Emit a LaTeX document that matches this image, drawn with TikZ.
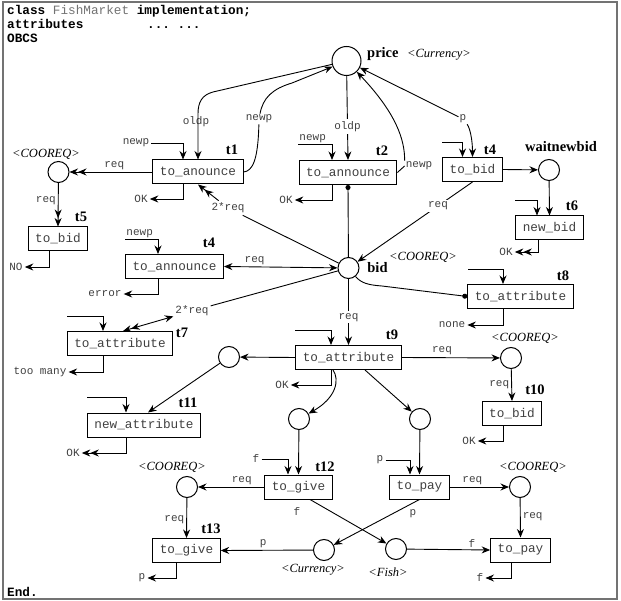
\documentclass[tikz,border=0pt]{standalone}
\usepackage{fontspec}
\setmainfont{Liberation Serif}
\setmonofont{Liberation Mono}
\usetikzlibrary{arrows.meta}

\begin{document}
\begin{tikzpicture}[x=1pt, y=-1pt, >={Stealth[length=8.5pt, width=7pt]},
  place/.style={circle, draw, line width=1pt, minimum size=21pt, inner sep=0pt},
  trans/.style={rectangle, draw, line width=1pt, minimum height=24pt, inner xsep=7pt, inner ysep=0pt,
    font=\ttfamily\fontsize{12.7}{14}\selectfont, text=black!75},
  tname/.style={font=\bfseries\fontsize{14.5}{16}\selectfont, inner sep=0pt},
  ptype/.style={font=\itshape\fontsize{12.5}{14}\selectfont, inner sep=0pt},
  lbl/.style={font=\ttfamily\fontsize{11}{12}\selectfont, text=black!75, inner sep=2pt},
  head/.style={anchor=base west, inner sep=0pt, font=\ttfamily\bfseries\fontsize{12.7}{14}\selectfont},
  arc/.style={line width=0.9pt, ->},
  arcs/.style={line width=0.9pt, ->>},
  both/.style={line width=0.9pt, <->},
  bothd/.style={line width=0.9pt, <->>},
  test/.style={line width=0.9pt, -{Circle[length=5pt]}}
]
  \useasboundingbox (0,0) rectangle (621,601);
  \draw[black!55, line width=1.2pt] (3,2) rectangle (617,599);

  % Header of the class
  \node[head] (hd1) at (7,15) {class {\mdseries\color{black!55}FishMarket} implementation;};
  \node[head] (hd2) at (7,29) {attributes};
  \node[head] (hd3) at (147,29) {... ...};
  \node[head] (hd4) at (7,43) {OBCS};
  \node[head] (hd5) at (7,596) {End.};

  % Places
  \node[place, minimum size=29pt] (price) at (346.5,61) {};
  \node[place] (cq1) at (58.5,172) {};
  \node[place] (bid) at (348.5,268) {};
  \node[place] (wnb) at (549,170) {};
  \node[place] (pl9) at (229,357) {};
  \node[place] (cq2) at (511,358) {};
  \node[place] (pf) at (299,419) {};
  \node[place] (pp) at (420,419) {};
  \node[place] (cq3) at (187,487) {};
  \node[place] (cq4) at (520,487) {};
  \node[place] (cur) at (324,550) {};
  \node[place] (fish) at (396,549) {};

  % Place names and types
  \node[tname, anchor=base west] (priceL) at (367,58) {price};
  \node[ptype, anchor=base west] (priceT) at (407,58) {<Currency>};
  \node[tname] (wnbL) at (561,147) {waitnewbid};
  \node[ptype] (cq1L) at (46,154) {<COOREQ>};
  \node[tname] (bidL) at (377.5,268) {bid};
  \node[ptype] (bidT) at (423,257) {<COOREQ>};
  \node[ptype] (cq2L) at (525,338) {<COOREQ>};
  \node[ptype] (cq3L) at (172,467) {<COOREQ>};
  \node[ptype] (cq4L) at (533,467) {<COOREQ>};
  \node[ptype] (curL) at (313,570) {<Currency>};
  \node[ptype] (fishL) at (388,572) {<Fish>};

  % Transitions
  \node[trans] (t1) at (198,172) {to\_anounce};
  \node[trans] (t2) at (348,172.5) {to\_announce};
  \node[trans] (t4) at (472.5,169.5) {to\_bid};
  \node[trans] (t5) at (58,239) {to\_bid};
  \node[trans] (t4b) at (174.5,266.5) {to\_announce};
  \node[trans] (t6) at (549.5,228) {new\_bid};
  \node[trans] (t7) at (120,343.5) {to\_attribute};
  \node[trans] (t8) at (520.5,296.5) {to\_attribute};
  \node[trans] (t9) at (348.5,357.5) {to\_attribute};
  \node[trans] (t10) at (512,413.5) {to\_bid};
  \node[trans] (t11) at (144,425) {new\_attribute};
  \node[trans] (t12) at (298.5,487) {to\_give};
  \node[trans] (t13) at (186.5,550.5) {to\_give};
  \node[trans] (t14) at (419.5,487) {to\_pay};
  \node[trans] (t15) at (520.5,550) {to\_pay};

  % Transition names
  \node[tname] (n1) at (232,150) {t1};
  \node[tname] (n2) at (382,151) {t2};
  \node[tname] (n4) at (490,150) {t4};
  \node[tname] (n5) at (81,217) {t5};
  \node[tname] (n4b) at (209,243) {t4};
  \node[tname] (n6) at (572,206) {t6};
  \node[tname] (n7) at (182,333) {t7};
  \node[tname] (n8) at (563,276) {t8};
  \node[tname] (n9) at (392,335) {t9};
  \node[tname] (n10) at (535,390) {t10};
  \node[tname] (n11) at (188,403) {t11};
  \node[tname] (n12) at (325,467) {t12};
  \node[tname] (n13) at (211,529) {t13};

  % Arcs of t1
  \node[lbl] (oldp1) at (196,122) {oldp};
  \draw[arc] (price) -- (213,92) .. controls (202,95) and (198,102) .. (198,114) -- (t1.north);
  \node[lbl, fill=white, inner sep=1pt] (newp1) at (259,119) {newp};
  \draw[line width=0.9pt] (t1.east) .. controls (252,171) and (258,162) .. (newp1);
  \draw[arc] (newp1) .. controls (263,98) and (272,89) .. (292,83) -- (price);
  \node[lbl] (nw1) at (136,143) {newp};
  \draw[arc] (nw1) -| ([xshift=-15pt]t1.north);
  \draw[arcs] (t1.west) -- node[lbl, above, pos=0.46] (rq1) {req} (cq1);
  \node[lbl] (ok1) at (141,199) {OK};
  \draw[arc] ([xshift=-15pt]t1.south) |- (ok1);
  \node[lbl] (rq1b) at (228,208) {2*req};
  \draw[arcs] (bid) -- (rq1b) -- (t1.south);

  % Arcs of t2
  \draw[arc] (price) -- node[lbl, fill=white, pos=0.6] (oldp2) {oldp} (t2.north);
  \coordinate (d2) at (298,144);
  \draw[arc] (d2) node[lbl, above right, inner sep=1pt] (nw2) {newp} -| ([xshift=-16pt]t2.north);
  \node[lbl] (ok2) at (286,200) {OK};
  \draw[arc] ([xshift=-16pt]t2.south) |- (ok2);
  \draw[test] (bid) -- (t2.south);
  \node[lbl, fill=white, inner sep=1pt] (newp2) at (419,166) {newp};
  \draw[line width=0.9pt] (t2.east) -- (newp2.west);
  \draw[arc] (newp2.north west) .. controls (405,140) and (396,113) .. (price);

  % Arcs of t4 and t6
  \node[lbl, inner sep=1pt] (p4) at (463,119) {p};
  \draw[arc] (p4) -- (price);
  \draw[arc] (p4) .. controls (470,128) and (472.5,140) .. (t4.north);
  \coordinate (d4) at (442,142);
  \draw[arc] (d4) -| ([xshift=-10pt]t4.north);
  \draw[arc] (t4.east) -- (wnb);
  \draw[arc] (t4.south) -- node[lbl, fill=white, pos=0.3] (rq4) {req} (bid);
  \draw[arc] (wnb) -- (t6.north);
  \coordinate (d6) at (515,200);
  \draw[arc] (d6) -| ([xshift=-12.5pt]t6.north);
  \node[lbl] (ok6) at (506,252) {OK};
  \draw[arcs] ([xshift=-11.5pt]t6.south) |- (ok6);

  % Arcs of t5
  \draw[arcs] (cq1) -- node[lbl, left, pos=0.4] (rq5) {req} (t5.north);
  \node[lbl] (no5) at (16,267) {NO};
  \draw[arc] ([xshift=-9pt]t5.south) |- (no5);

  % Arcs of the second t4
  \coordinate (d4b) at (125,239);
  \draw[arc] (d4b) node[lbl, above right, inner sep=1pt] (nw4b) {newp} -| ([xshift=-16.5pt]t4b.north);
  \draw[both] (t4b.east) -- node[lbl, above, pos=0.27] (rq4b) {req} (bid);
  \node[lbl] (err) at (105,294) {error};
  \draw[arc] ([xshift=-16.5pt]t4b.south) |- (err);

  % Arcs of t7
  \node[lbl] (rq7) at (192,311) {2*req};
  \draw[bothd] (bid) -- (rq7) -- ([xshift=3pt]t7.north);
  \coordinate (d7) at (67,316);
  \draw[arc] (d7) -| ([xshift=-17pt]t7.north);
  \node[lbl] (tm7) at (40,372) {too many};
  \draw[arc] ([xshift=-17pt]t7.south) |- (tm7);

  % Arcs of t8
  \coordinate (d8) at (468,269);
  \draw[arc] (d8) -| ([xshift=-17.5pt]t8.north);
  \draw[test] (bid) .. controls (361,283) and (368,285) .. (382,286) -- (t8.west);
  \node[lbl] (none8) at (452,325) {none};
  \draw[arc] ([xshift=-17.5pt]t8.south) |- (none8);

  % Arcs of t9
  \draw[arc] (bid) -- node[lbl, fill=white, pos=0.58] (rq9) {req} (t9.north);
  \coordinate (d9) at (295,330);
  \draw[arc] (d9) -| ([xshift=-17.5pt]t9.north);
  \draw[arc] (t9.west) -- (pl9);
  \node[lbl] (ok9) at (282,385) {OK};
  \draw[arc] ([xshift=-17.5pt]t9.south) |- (ok9);
  \draw[arc] ([xshift=-15.5pt]t9.south) .. controls (340,380) and (336,398) .. (pf);
  \draw[arc] ([xshift=16.5pt]t9.south) -- (pp);
  \draw[arc] (t9.east) -- node[lbl, above, pos=0.41] (rq9b) {req} (cq2);

  % Arcs of t10 and t11
  \draw[arc] (cq2) -- node[lbl, left, pos=0.5] (rq10) {req} (t10.north);
  \node[lbl] (ok10) at (469,441) {OK};
  \draw[arc] ([xshift=-9pt]t10.south) |- (ok10);
  \draw[arc] (pl9) -- ([xshift=4pt]t11.north);
  \coordinate (d11) at (87,397);
  \draw[arc] (d11) -| ([xshift=-18pt]t11.north);
  \node[lbl] (ok11) at (73,453) {OK};
  \draw[arcs] ([xshift=-18pt]t11.south) |- (ok11);

  % Arcs of t12 and t13
  \draw[arc] (pf) -- (t12.north);
  \node[lbl] (f12) at (256,459) {f};
  \draw[arc] (f12) -| ([xshift=-10.5pt]t12.north);
  \draw[arc] (t12.west) -- node[lbl, above, pos=0.34] (rq12) {req} (cq3);
  \node[lbl] (f12b) at (297,512) {f};
  \draw[arc] ([xshift=11.5pt]t12.south) -- (fish);
  \draw[arc] (cq3) -- node[lbl, left, pos=0.55] (rq13) {req} (t13.north);
  \draw[arc] (cur) -- node[lbl, above, pos=0.54] (p13) {p} (t13.east);
  \node[lbl] (p13b) at (142,578) {p};
  \draw[arc] ([xshift=-10.5pt]t13.south) |- (p13b);

  % Arcs of the two to_pay
  \draw[arc] (pp) -- (t14.north);
  \node[lbl] (p14) at (380,460) {p};
  \draw[arc] (p14) -| ([xshift=-9.5pt]t14.north);
  \draw[arc] (t14.east) -- node[lbl, above, pos=0.38] (rq14) {req} (cq4);
  \node[lbl] (p14b) at (413,514) {p};
  \draw[arc] (t14.south) -- (cur);
  \draw[arc] (cq4) -- node[lbl, right, pos=0.48] (rq15) {req} (t15.north);
  \draw[arc] (fish) -- node[lbl, above, pos=0.78] (f15) {f} (t15.west);
  \node[lbl] (f15b) at (480,578) {f};
  \draw[arc] ([xshift=-9.5pt]t15.south) |- (f15b);
\end{tikzpicture}
\end{document}
